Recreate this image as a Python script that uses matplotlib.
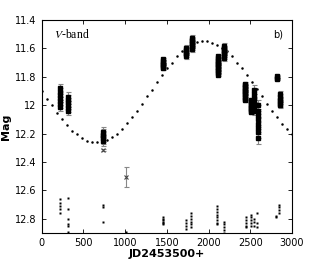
import matplotlib.pyplot as plt
import numpy as np
from matplotlib.ticker import FormatStrFormatter

plt.rcParams['mathtext.fontset'] = 'stix'

# model curve (dotted), one dot every 60 days
model_day = np.arange(0, 3001, 60)
model_mag = [11.90, 11.955, 12.00, 12.055, 12.10, 12.14, 12.18, 12.205, 12.23, 12.25,
             12.26, 12.26, 12.25, 12.245, 12.225, 12.20, 12.17, 12.125, 12.085, 12.04,
             11.99, 11.935, 11.89, 11.835, 11.785, 11.74, 11.70, 11.655, 11.62, 11.59,
             11.57, 11.555, 11.55, 11.55, 11.56, 11.575, 11.595, 11.62, 11.655, 11.70,
             11.74, 11.785, 11.84, 11.885, 11.935, 11.99, 12.04, 12.085, 12.13, 12.165,
             12.20]

# V-band observations, grouped by night
obs_day = [224, 316, 735, 1452, 1732, 1800, 2108, 2180, 2440, 2508, 2548, 2588, 2816, 2852]
obs_mag = [
    [11.88, 11.91, 11.93, 11.95, 11.97, 11.99, 12.01],
    [11.94, 11.96, 11.98, 12.00, 12.02, 12.04],
    [12.19, 12.21, 12.22, 12.23, 12.25],
    [11.675, 11.69, 11.70, 11.71, 11.72, 11.73, 11.74],
    [11.595, 11.61, 11.62, 11.63, 11.64, 11.655],
    [11.525, 11.54, 11.55, 11.56, 11.57, 11.58, 11.59, 11.605],
    [11.655, 11.67, 11.68, 11.69, 11.70, 11.71, 11.72, 11.73, 11.74, 11.75, 11.76, 11.77, 11.785],
    [11.585, 11.60, 11.61, 11.62, 11.63, 11.64, 11.655, 11.67],
    [11.85, 11.86, 11.87, 11.88, 11.89, 11.90, 11.91, 11.92, 11.93, 11.94, 11.955, 11.965],
    [11.96, 11.97, 11.98, 11.99, 12.00, 12.01, 12.02, 12.03, 12.04, 12.05],
    [11.89, 11.92, 11.95, 11.97, 11.99, 12.02, 12.04],
    [12.00, 12.04, 12.07, 12.10, 12.13, 12.16, 12.19, 12.23],
    [11.795, 11.805, 11.815],
    [11.92, 11.94, 11.96, 11.97, 11.99, 12.00],
]
obs_err = [0.03, 0.03, 0.04, 0.01, 0.02, 0.02, 0.01, 0.02, 0.01, 0.01, 0.03, 0.04, 0.01, 0.02]

# odd points drawn with crosses
cross_day = [735, 1016]
cross_mag = [12.315, 12.505]
cross_err = [0.01, 0.07]

# comparison star (bottom)
comp_day = [224, 316, 735, 1016, 1456, 1732, 1795, 2100, 2180, 2450, 2505, 2545, 2580, 2810, 2845]
comp_mag = [
    [12.66, 12.69, 12.71, 12.73, 12.76],
    [12.65, 12.73, 12.80, 12.84, 12.85, 12.89],
    [12.70, 12.72, 12.82],
    [12.895],
    [12.79, 12.80, 12.81, 12.82, 12.83, 12.84],
    [12.81, 12.83, 12.85, 12.87],
    [12.76, 12.78, 12.80, 12.82, 12.84, 12.86],
    [12.71, 12.73, 12.75, 12.77, 12.79, 12.81, 12.83, 12.84],
    [12.82, 12.84, 12.86, 12.88, 12.90],
    [12.79, 12.81, 12.83, 12.85, 12.86],
    [12.77, 12.79, 12.81, 12.83, 12.85],
    [12.80, 12.82, 12.85],
    [12.76, 12.83, 12.86],
    [12.78, 12.79],
    [12.70, 12.72, 12.74, 12.76],
]

fig = plt.figure(figsize=(3.23, 2.63), dpi=100)
ax = fig.add_axes([0.129, 0.114, 0.775, 0.81])

ax.plot(model_day, model_mag, 'o', color='black', ms=1.8, mec='none')

for d, m, e in zip(obs_day, obs_mag, obs_err):
    size = 2.4 if (e >= 0.02 and d < 800) or d in (2548, 2588, 2852) else 3.2
    ax.errorbar([d] * len(m), m, yerr=e, fmt='s', color='black', ms=size, mec='black',
                ecolor='#888888', elinewidth=0.8, capsize=1.8, capthick=0.8, zorder=3)

ax.errorbar(cross_day, cross_mag, yerr=cross_err, fmt='x', color='#444444', ms=3,
            mew=0.8, ecolor='#888888', elinewidth=0.8, capsize=1.8, capthick=0.8)

for d, m in zip(comp_day, comp_mag):
    ax.plot([d] * len(m), m, 's', color='black', ms=2.0, mec='none')

ax.set_xlim(0, 3000)
ax.set_ylim(12.9, 11.4)
ax.set_xticks(np.arange(0, 3001, 500))
ax.set_yticks(np.arange(11.4, 12.81, 0.2))
ax.yaxis.set_major_formatter(FormatStrFormatter('%g'))
ax.tick_params(direction='in', top=True, right=True, labelsize=7, length=3, width=0.6)
for s in ax.spines.values():
    s.set_linewidth(0.8)

ax.set_xlabel('JD2453500+', fontsize=8, fontweight='bold', labelpad=1)
ax.set_ylabel('Mag', fontsize=8, fontweight='bold', labelpad=3)

ax.text(0.05, 0.93, r'$V$-band', transform=ax.transAxes, fontsize=8.5,
        family='Liberation Serif', va='center')
ax.text(0.965, 0.93, 'b)', transform=ax.transAxes, fontsize=7, ha='right', va='center')

fig.savefig('out.png', dpi=100)
